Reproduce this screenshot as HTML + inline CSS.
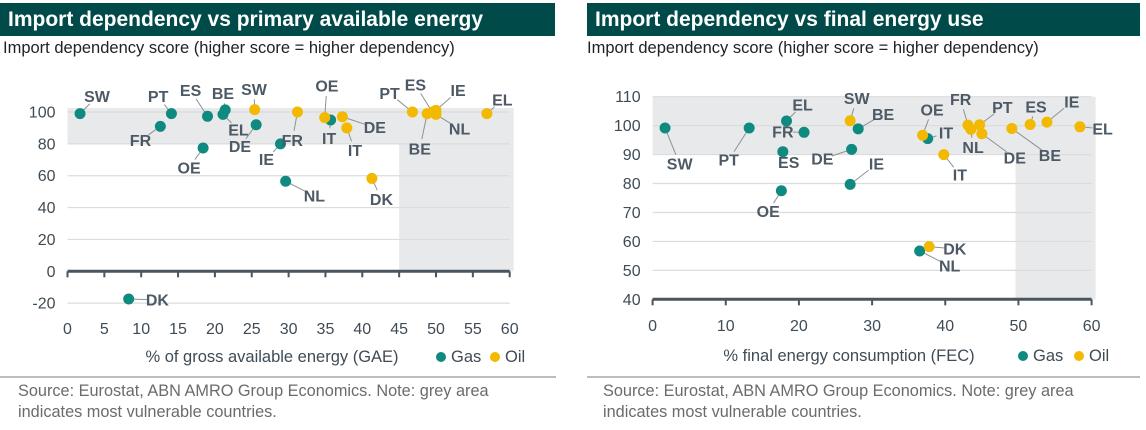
<!DOCTYPE html>
<html><head><meta charset="utf-8">
<style>
body{margin:0;width:1146px;height:430px;background:#fff;font-family:"Liberation Sans",sans-serif;overflow:hidden;position:relative}
.tb{position:absolute;top:3px;height:33px;background:#004b49;color:#fff;font-weight:bold;font-size:21px;line-height:33px;padding-left:8px;box-sizing:border-box;white-space:nowrap}
.sub{position:absolute;top:39px;font-size:16.5px;color:#222;white-space:nowrap}
.rule{position:absolute;top:376px;height:2px;background:#bdbdbd}
.foot{position:absolute;top:381px;font-size:16.3px;line-height:21px;color:#6b6b6b;white-space:nowrap}
svg{position:absolute;left:0;top:0}
</style></head><body>
<div class="tb" style="left:0;width:555px">Import dependency vs primary available energy</div>
<div class="tb" style="left:587px;width:553px">Import dependency vs final energy use</div>
<div class="sub" style="left:3px">Import dependency score (higher score = higher dependency)</div>
<div class="sub" style="left:587px">Import dependency score (higher score = higher dependency)</div>
<div class="rule" style="left:0;width:556px"></div>
<div class="rule" style="left:587px;width:553px"></div>
<div class="foot" style="left:18px">Source: Eurostat, ABN AMRO Group Economics. Note: grey area<br>indicates most vulnerable countries.</div>
<div class="foot" style="left:603px">Source: Eurostat, ABN AMRO Group Economics. Note: grey area<br>indicates most vulnerable countries.</div>
<svg id="s" width="1146" height="430"></svg>
<script>
// ---- left chart data (GAE) ----
const leftCountriesGas=["SW","FR","PT","OE","ES","BE","EL","DE","IE","NL","IT","DK"];
const leftGasX=[1.7,12.6,14.1,18.4,19,21.4,21.1,25.6,28.9,29.6,35.7,8.3];
const leftGasY=[99,91,99,77.4,97.3,101.3,98.5,92,80,56.5,95,-17.4];
const leftGasLblX=[4.0,9.9,12.3,16.5,16.7,21.1,23.2,23.4,27,33.5,35.5,12.2];
const leftGasLblY=[109.6,82,109.6,65,113.4,111.7,88.7,78.2,70.3,47.3,83.5,-18];
const leftCountriesOil=["SW","FR","OE","DE","IT","DK","PT","BE","ES","IE","NL","EL"];
const leftOilX=[25.4,31.2,34.9,37.3,37.9,41.3,46.8,48.8,49.5,50,50,56.9];
const leftOilY=[101.5,100,96.5,97,90,58.3,100,99,100,101,98.5,99];
const leftOilLblX=[25.3,30.5,35.2,41.7,39,42.6,43.7,47.8,47.2,53,53.2,59];
const leftOilLblY=[114.2,82,116.3,90.2,75.7,45.2,111.7,76.8,117,113.4,89.3,107.5];
const leftXTicks=[0,5,10,15,20,25,30,35,40,45,50,55,60];
const leftYTicks=[-20,0,20,40,60,80,100];
// ---- right chart data (FEC) ----
const rightCountriesGas=["SW","PT","EL","FR","ES","OE","DE","IE","BE","IT","NL"];
const rightGasX=[1.7,13.2,18.3,20.7,17.8,17.6,27.2,27,28.1,37.6,36.5];
const rightGasY=[99.2,99.2,101.6,97.7,91,77.5,91.8,79.7,98.9,95.5,56.7];
const rightGasLblX=[3.7,10.4,20.5,17.8,18.6,15.8,23.2,30.6,31.5,40.1,40.6];
const rightGasLblY=[86.7,88.1,107.2,97.8,87.2,70.3,88.4,86.7,103.9,97.5,51.5];
const rightCountriesOil=["SW","OE","IT","DK","FR","NL","PT","DE","BE","ES","IE","EL"];
const rightOilX=[27,36.9,39.8,37.8,43.1,43.5,44.7,45,49.1,51.6,53.9,58.4];
const rightOilY=[101.7,96.7,90,58.2,100.2,98.7,100.3,97.2,99,100.4,101.2,99.6];
const rightOilLblX=[27.9,38.2,42,41.3,42.1,43.8,47.8,49.5,54.3,52.4,57.3,61.5];
const rightOilLblY=[109.3,105.4,82.9,57.4,109,92.4,106.2,88.9,89.6,106.5,108.2,98.9];
const rightXTicks=[0,10,20,30,40,50,60];
const rightYTicks=[40,50,60,70,80,90,100,110];

const NS="http://www.w3.org/2000/svg";
const svg=document.getElementById('s');
function mk(tag,attrs,txt){const e=document.createElementNS(NS,tag);for(const k in attrs)e.setAttribute(k,attrs[k]);if(txt!==undefined)e.textContent=txt;svg.appendChild(e);return e;}

function chart(cfg){
  const sx=v=>cfg.x0+(v-cfg.xmin)/(cfg.xmax-cfg.xmin)*(cfg.x1-cfg.x0);
  const sy=v=>cfg.y0+(v-cfg.ymin)/(cfg.ymax-cfg.ymin)*(cfg.y1-cfg.y0);
  let r;
  r=mk('rect',{x:sx(cfg.xmin),y:sy(cfg.bandTop),width:sx(cfg.xmax)-sx(cfg.xmin)+4,height:sy(cfg.bandBot)-sy(cfg.bandTop),fill:'#e8e9eb'});
  
  
  r=mk('rect',{x:sx(cfg.colX),y:sy(cfg.bandBot),width:sx(cfg.xmax)-sx(cfg.colX)+4,height:sy(cfg.ymin0)-sy(cfg.bandBot),fill:'#e8e9eb'});
  
  
  cfg.yt.forEach(v=>{
    if(v!==cfg.axisV){const l=mk('line',{x1:sx(cfg.xmin),x2:sx(cfg.xmax),y1:sy(v),y2:sy(v),stroke:'#dcdcdc','stroke-width':1.2});
    
    }
    const t=mk('text',{x:cfg.x0-12,y:sy(v)+5.5,'text-anchor':'end','font-size':16,fill:'#3f4b55'},v);
    
    
  });
  const ax=mk('line',{x1:sx(cfg.xmin),x2:sx(cfg.xmax),y1:sy(cfg.axisV),y2:sy(cfg.axisV),stroke:'#4a555e','stroke-width':3});
  
  
  cfg.xt.forEach(v=>{
    const tk=mk('line',{x1:sx(v),x2:sx(v),y1:sy(cfg.axisV),y2:sy(cfg.axisV)+6,stroke:'#4a555e','stroke-width':2});
    
    
    const t=mk('text',{x:sx(v),y:cfg.xLblY,'text-anchor':'middle','font-size':16,fill:'#3f4b55'},v);
    
    
  });
  const series=[[cfg.gc,cfg.gx,cfg.gy,cfg.glx,cfg.gly,'#0e8a80','gas'],[cfg.oc,cfg.ox,cfg.oy,cfg.olx,cfg.oly,'#f3b800','oil']];
  series.forEach(s=>{
    s[0].forEach((c,i)=>{
      const px=sx(s[1][i]),py=sy(s[2][i]),lx=sx(s[3][i]),ly=sy(s[4][i]);
      const d=Math.hypot(lx-px,ly-py);
      if(d>16){const ln=mk('line',{x1:px,y1:py,x2:px+(lx-px)*(1-10/d),y2:py+(ly-py)*(1-10/d),stroke:'#8a9297','stroke-width':1});
      
      }
    });
  });
  series.forEach(s=>{
    s[0].forEach((c,i)=>{
      const dot=mk('circle',{cx:sx(s[1][i]),cy:sy(s[2][i]),r:5.5,fill:s[5]});
      
      
    });
  });
  series.forEach(s=>{
    s[0].forEach((c,i)=>{
      const t=mk('text',{x:sx(s[3][i]),y:sy(s[4][i])+5.5,'text-anchor':'middle','font-size':16,'font-weight':'bold',fill:'#4d5a66'},c);
      
      
    });
  });
  const at=mk('text',{x:cfg.atx,y:cfg.aty,'text-anchor':'middle','font-size':16.5,fill:'#3f4b55'},cfg.atitle);
  
  
  const g1=mk('circle',{cx:cfg.lgx,cy:cfg.aty-5,r:5,fill:'#0e8a80'});
  
  
  const g2=mk('text',{x:cfg.lgx+10,y:cfg.aty,'font-size':16.5,fill:'#3f4b55'},'Gas');
  
  
  const o1=mk('circle',{cx:cfg.lox,cy:cfg.aty-5,r:5,fill:'#f3b800'});
  
  
  const o2=mk('text',{x:cfg.lox+10,y:cfg.aty,'font-size':16.5,fill:'#3f4b55'},'Oil');
  
  
}
chart({p:'left',x0:67.5,x1:509.7,xmin:0,xmax:60,y0:271.3,y1:112,ymin:0,ymax:100,ymin0:0,axisV:0,
  bandTop:102.5,bandBot:80,colX:45,xt:leftXTicks,yt:leftYTicks,xLblY:334,
  gc:leftCountriesGas,gx:leftGasX,gy:leftGasY,glx:leftGasLblX,gly:leftGasLblY,
  oc:leftCountriesOil,ox:leftOilX,oy:leftOilY,olx:leftOilLblX,oly:leftOilLblY,
  atitle:'% of gross available energy (GAE)',atx:272,aty:362,lgx:441,lox:495});
chart({p:'right',x0:652.6,x1:1091.6,xmin:0,xmax:60,y0:299.3,y1:96.7,ymin:40,ymax:110,ymin0:40,axisV:40,
  bandTop:110,bandBot:90,colX:49.6,xt:rightXTicks,yt:rightYTicks,xLblY:331,
  gc:rightCountriesGas,gx:rightGasX,gy:rightGasY,glx:rightGasLblX,gly:rightGasLblY,
  oc:rightCountriesOil,ox:rightOilX,oy:rightOilY,olx:rightOilLblX,oly:rightOilLblY,
  atitle:'% final energy consumption (FEC)',atx:849,aty:361,lgx:1023,lox:1079});
</script>
</body></html>
